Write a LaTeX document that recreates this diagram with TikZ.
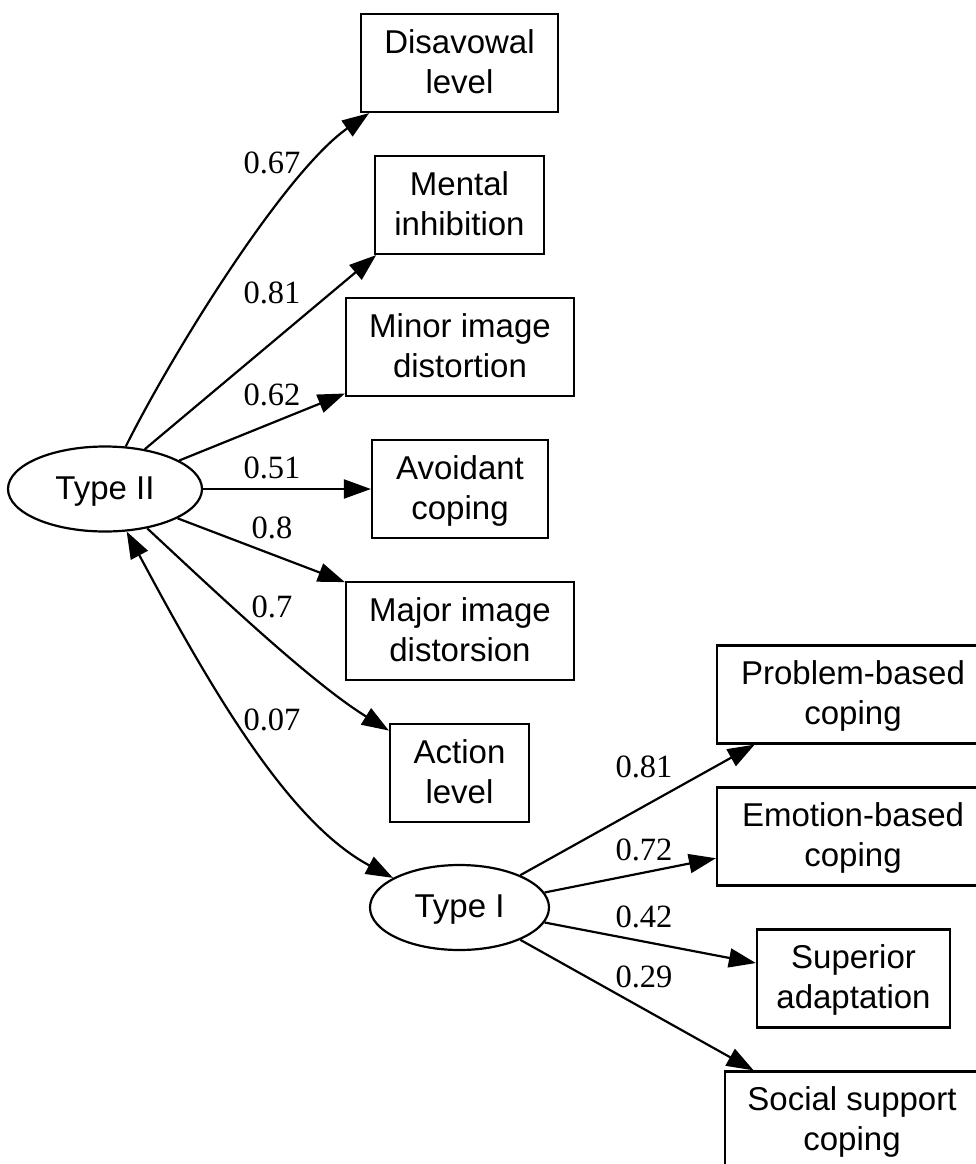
\documentclass[tikz,border=0pt]{standalone}
\usepackage{fontspec}
\newfontfamily\boxfont{Liberation Sans}
\newfontfamily\numfont{Liberation Serif}
\usetikzlibrary{arrows.meta,shapes.geometric}
\newcommand\sr{\rule[-10pt]{0pt}{40pt}}
\begin{document}
\begin{tikzpicture}[x=1pt,y=-1pt,
  box/.style={draw, line width=2.2pt, rectangle, inner sep=0pt, minimum height=98pt, align=center, font=\boxfont\fontsize{33}{40}\selectfont},
  lat/.style={draw, line width=2.2pt, ellipse, inner sep=0pt, minimum height=85pt, font=\boxfont\fontsize{33}{40}\selectfont},
  tip/.tip={Triangle[length=27pt,width=19pt]},
  edge/.style={line width=2.2pt, -tip},
  biedge/.style={line width=2.2pt, tip-tip},
  num/.style={anchor=base, inner sep=0pt, font=\numfont\fontsize{32.5}{39}\selectfont}]
\useasboundingbox (0,0) rectangle (976,1164);
\clip (0,0) rectangle (976,1164);
% nodes
\node[box, minimum width=197pt] (dis) at (459.5,63) {\sr Disavowal\\\sr level};
\node[box, minimum width=169pt] (men) at (459.5,205) {\sr Mental\\\sr inhibition};
\node[box, minimum width=228pt] (min) at (460,347) {\sr Minor image\\\sr distortion};
\node[box, minimum width=176pt] (avo) at (460,489) {\sr Avoidant\\\sr coping};
\node[box, minimum width=228pt] (maj) at (460,631) {\sr Major image\\\sr distorsion};
\node[box, minimum width=139pt] (act) at (459.5,773) {\sr Action\\\sr level};
\node[lat, minimum width=194pt] (t2) at (105,489) {\sr Type II};
\node[lat, minimum width=179pt] (t1) at (459.5,907.5) {\sr Type I};
\node[box, minimum width=272pt] (pro) at (853,694.5) {\sr Problem-based\\\sr coping};
\node[box, minimum width=272pt] (emo) at (853,836.5) {\sr Emotion-based\\\sr coping};
\node[box, minimum width=193pt] (sup) at (853.5,978.5) {\sr Superior\\\sr adaptation};
\node[box, minimum width=254pt] (soc) at (852,1120.5) {\sr Social support\\\sr coping};
% edges
\draw[edge] (t2.64) .. controls (174,350) and (285,172) .. (dis.209.5);
\draw[edge] (t2.45) -- (men.211);
\draw[edge] (t2.21) -- (min.202);
\draw[edge] (t2.0) -- (avo.180);
\draw[edge] (t2.-22) -- (maj.157);
\draw[edge] (t2.-43) .. controls (222,598) and (312,683) .. (act.149);
\draw[biedge] (t2.-63) .. controls (210.6,688.4) and (288.4,822.6) .. (t1.156);
\draw[edge] (t1.28) -- (pro.207);
\draw[edge] (t1.10) -- (emo.189);
\draw[edge] (t1.-10) -- (sup.171);
\draw[edge] (t1.-28) -- (soc.153);
% labels
\node[num] (l1) at (272,173) {0.67};
\node[num] (l2) at (272,303) {0.81};
\node[num] (l3) at (272,405) {0.62};
\node[num] (l4) at (272,478) {0.51};
\node[num] (l5) at (272,538) {0.8};
\node[num] (l6) at (272,617) {0.7};
\node[num] (l7) at (272,730) {0.07};
\node[num] (r1) at (644,777) {0.81};
\node[num] (r2) at (644,860) {0.72};
\node[num] (r3) at (644,927) {0.42};
\node[num] (r4) at (644,987) {0.29};
\end{tikzpicture}
\end{document}
